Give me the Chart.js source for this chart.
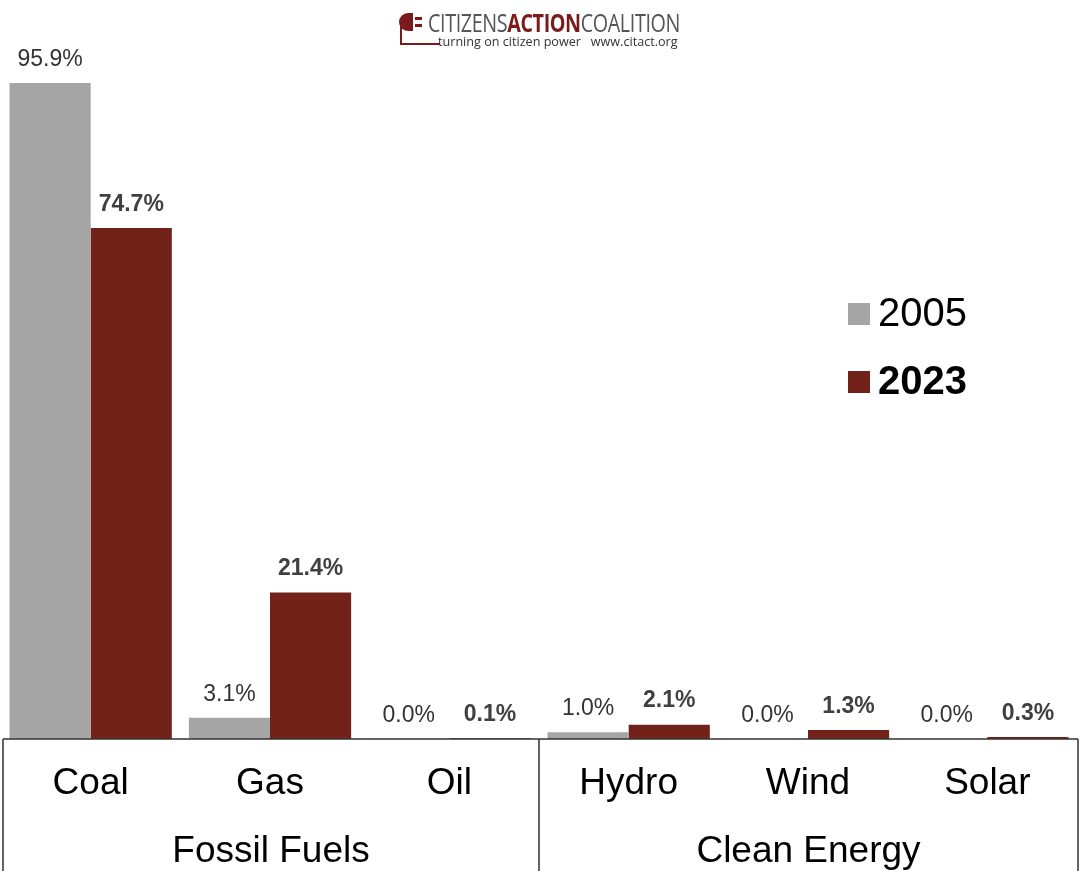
<!DOCTYPE html>
<html>
<head>
<meta charset="utf-8">
<script src="https://cdn.jsdelivr.net/npm/chart.js@4/dist/chart.umd.min.js"></script>
<style>
  html, body { margin: 0; padding: 0; background: #fff; }
  #wrap { position: relative; width: 1083px; height: 871px; }
  #logo { position: absolute; left: 396px; top: 8px; width: 300px; height: 42px; }
  #logo .l1 { position: absolute; left: 32px; top: 0px; font-family: "Open Sans", sans-serif; font-size: 25px; line-height: 28px;
              color: #555; white-space: nowrap; transform: scaleX(0.79); transform-origin: left top; letter-spacing: -0.5px; }
  #logo .l1 b { color: #7a1a1a; font-weight: 700; }
  #logo .l2 { position: absolute; left: 42px; top: 26px; font-family: "Open Sans", sans-serif; font-size: 13px; line-height: 14px;
              color: #333; white-space: nowrap; transform: scaleX(0.97); transform-origin: left top; }
</style>
</head>
<body>
<div id="wrap">
  <canvas id="chart" width="1083" height="871"></canvas>
  <div id="logo">
    <svg width="44" height="42" style="position:absolute;left:0;top:0">
      <path d="M12 5 A9 9 0 0 0 12 23 Z" fill="#7a1a1a"/>
      <rect x="12" y="5" width="5" height="18" fill="#7a1a1a"/>
      <rect x="19" y="9" width="7" height="3" fill="#7a1a1a"/>
      <rect x="19" y="16" width="7" height="3" fill="#7a1a1a"/>
      <path d="M5 14 L5 36 L44 36" stroke="#7a1a1a" stroke-width="2" fill="none"/>
    </svg>
    <div class="l1">CITIZENS<b>ACTION</b>COALITION</div>
    <div class="l2">turning on citizen power&nbsp;&nbsp;&nbsp;www.citact.org</div>
  </div>
</div>
<script>
// Energy mix data ---------------------------------------------------------
const categories = ['Coal', 'Gas', 'Oil', 'Hydro', 'Wind', 'Solar'];
const groups = ['Fossil Fuels', 'Clean Energy'];
const groupSizes = [3, 3];
const seriesLabels = ['2005', '2023'];
const values2005 = [95.9, 3.1, 0.04, 1.0, 0.0, 0.0];
const values2023 = [74.7, 21.4, 0.1, 2.1, 1.3, 0.3];

const GRAY = '#a5a5a5';
const MAROON = '#722219';

// Draws value labels, category/group box and legend ---------------------
const decorPlugin = {
  id: 'decor',
  afterDatasetsDraw(chart) {
    const ctx = chart.ctx;
    const x = chart.scales.x;
    const area = chart.chartArea;

    // value labels above the bars
    chart.data.datasets.forEach((ds, di) => {
      const meta = chart.getDatasetMeta(di);
      ctx.save();
      ctx.font = (di === 1 ? 'bold ' : '') + '23px "Liberation Sans", Arial, sans-serif';
      ctx.fillStyle = di === 1 ? '#404040' : '#333';
      ctx.textAlign = 'center';
      ctx.textBaseline = 'bottom';
      meta.data.forEach((bar, i) => {
        ctx.fillText(ds.data[i].toFixed(1) + '%', bar.x, bar.y - 12);
      });
      ctx.restore();
    });

    // box under the plot
    const step = x.getPixelForValue(1) - x.getPixelForValue(0);
    const bottom = chart.height;
    const top = area.bottom;
    const edges = [x.getPixelForValue(0) - step / 2 + 2];
    let idx = 0;
    groupSizes.forEach((n) => {
      idx += n;
      edges.push(x.getPixelForValue(idx - 1) + step / 2);
    });
    edges[edges.length - 1] += 1;

    ctx.save();
    ctx.strokeStyle = '#333';
    ctx.lineWidth = 1.5;
    ctx.beginPath();
    ctx.moveTo(edges[0], top);
    ctx.lineTo(edges[edges.length - 1], top);
    edges.forEach((e) => {
      ctx.moveTo(e, top);
      ctx.lineTo(e, bottom);
    });
    ctx.stroke();

    ctx.fillStyle = '#000';
    ctx.textAlign = 'center';
    ctx.textBaseline = 'middle';
    ctx.font = '37px "Liberation Sans", Arial, sans-serif';
    categories.forEach((c, i) => {
      ctx.fillText(c, x.getPixelForValue(i), top + 45);
    });
    groups.forEach((g, gi) => {
      ctx.fillText(g, (edges[gi] + edges[gi + 1]) / 2, top + 113);
    });

    // legend
    const legendY = [314, 382];
    seriesLabels.forEach((s, i) => {
      ctx.fillStyle = chart.data.datasets[i].backgroundColor;
      ctx.fillRect(848, legendY[i] - 11, 22, 22);
      ctx.fillStyle = '#000';
      ctx.textAlign = 'left';
      ctx.font = (i === 1 ? 'bold ' : '') + '40px "Liberation Sans", Arial, sans-serif';
      ctx.fillText(s, 878, legendY[i] + 1);
    });
    ctx.restore();
  },
};

new Chart(document.getElementById('chart'), {
  type: 'bar',
  data: {
    labels: categories,
    datasets: [
      { label: seriesLabels[0], data: values2005, backgroundColor: GRAY, borderWidth: 0 },
      { label: seriesLabels[1], data: values2023, backgroundColor: MAROON, borderWidth: 0 },
    ],
  },
  options: {
    responsive: false,
    animation: false,
    layout: { padding: { top: 55, bottom: 132, left: 1, right: 6 } },
    datasets: { bar: { categoryPercentage: 0.905, barPercentage: 1.0 } },
    scales: {
      x: { display: false },
      y: { display: false, min: 0, max: 100 },
    },
    plugins: { legend: { display: false }, tooltip: { enabled: false } },
  },
  plugins: [decorPlugin],
});
</script>
</body>
</html>
